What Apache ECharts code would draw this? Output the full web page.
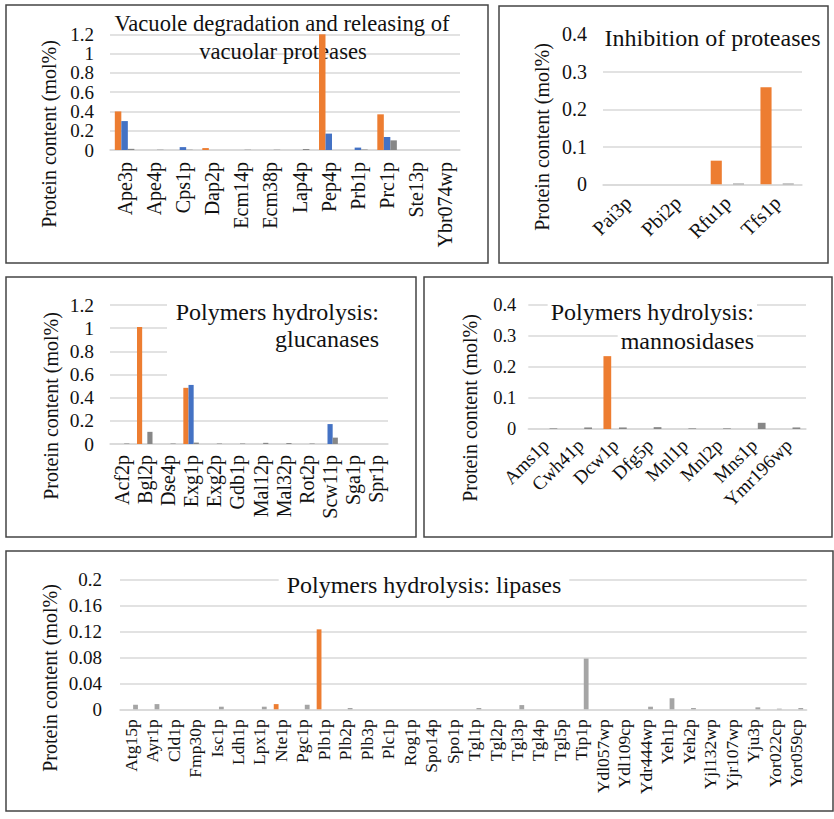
<!DOCTYPE html>
<html>
<head>
<meta charset="utf-8">
<script src="https://cdn.jsdelivr.net/npm/echarts@6/dist/echarts.min.js"></script>
<style>
html,body{margin:0;padding:0;background:#fff;}
#chart{width:834px;height:819px;}
</style>
</head>
<body>
<div id="chart"></div>
<script>
// ---------- Panel 1: Vacuole degradation ----------
const p1Categories = ['Ape3p','Ape4p','Cps1p','Dap2p','Ecm14p','Ecm38p','Lap4p','Pep4p','Prb1p','Prc1p','Ste13p','Ybr074wp'];
const p1Orange = [0.40, 0, 0, 0.02, 0, 0, 0, 1.2, 0, 0.37, 0, 0];
const p1Blue   = [0.30, 0, 0.03, 0, 0, 0, 0, 0.17, 0.025, 0.135, 0, 0];
const p1Gray   = [0.012, 0.003, 0.003, 0, 0.003, 0.003, 0.01, 0, 0.005, 0.10, 0, 0];
const p1Ticks  = {max: 1.2, interval: 0.2};

// ---------- Panel 2: Inhibition of proteases ----------
const p2Categories = ['Pai3p','Pbi2p','Rfu1p','Tfs1p'];
const p2Orange = [0, 0, 0.063, 0.259];
const p2Blue   = [0, 0, 0, 0];
const p2Gray   = [0, 0, 0.002, 0.002];
const p2Ticks  = {max: 0.4, interval: 0.1};

// ---------- Panel 3: glucanases ----------
const p3Categories = ['Acf2p','Bgl2p','Dse4p','Exg1p','Exg2p','Gdb1p','Mal12p','Mal32p','Rot2p','Scw11p','Sga1p','Spr1p'];
const p3Orange = [0, 1.01, 0, 0.485, 0, 0, 0, 0, 0, 0, 0, 0];
const p3Blue   = [0, 0, 0, 0.51, 0, 0, 0, 0, 0, 0.172, 0, 0];
const p3Gray   = [0.004, 0.105, 0.004, 0.012, 0.004, 0.004, 0.01, 0.008, 0.004, 0.055, 0, 0];
const p3Ticks  = {max: 1.2, interval: 0.2};

// ---------- Panel 4: mannosidases ----------
const p4Categories = ['Ams1p','Cwh41p','Dcw1p','Dfg5p','Mnl1p','Mnl2p','Mns1p','Ymr196wp'];
const p4Orange = [0, 0, 0.235, 0, 0, 0, 0, 0];
const p4Blue   = [0, 0, 0, 0, 0, 0, 0, 0];
const p4Gray   = [0.002, 0.005, 0.005, 0.006, 0.002, 0.002, 0.02, 0.005];
const p4Ticks  = {max: 0.4, interval: 0.1};

// ---------- Panel 5: lipases ----------
const p5Categories = ['Atg15p','Ayr1p','Cld1p','Fmp30p','Isc1p','Ldh1p','Lpx1p','Nte1p','Pgc1p','Plb1p','Plb2p','Plb3p','Plc1p','Rog1p','Spo14p','Spo1p','Tgl1p','Tgl2p','Tgl3p','Tgl4p','Tgl5p','Tip1p','Ydl057wp','Ydl109cp','Ydr444wp','Yeh1p','Yeh2p','Yjl132wp','Yjr107wp','Yju3p','Yor022cp','Yor059cp'];
const p5Orange = [0,0,0,0,0,0,0,0.008,0,0.123,0,0,0,0,0,0,0,0,0,0,0,0,0,0,0,0,0,0,0,0,0,0];
const p5Blue   = [0,0,0,0,0,0,0,0,0,0,0,0,0,0,0,0,0,0,0,0,0,0,0,0,0,0,0,0,0,0,0,0];
const p5Gray   = [0.007,0.008,0,0,0.004,0,0.004,0,0.007,0,0.002,0,0,0,0,0,0.002,0,0.0065,0,0,0.078,0,0,0.004,0.017,0.002,0,0,0.003,0.001,0.002];
const p5Ticks  = {max: 0.2, interval: 0.04};

const yAxisTitle = 'Protein content (mol%)';
const FONT = '"Liberation Serif", "Times New Roman", serif';
const ORANGE = '#ED7D31', BLUE = '#4472C4';

const panels = [
  {cats: p1Categories, o: p1Orange, b: p1Blue, g: p1Gray, t: p1Ticks, gray: '#878787',
   grid: {left: 110, top: 34.3, width: 350, height: 115.7}, rot: 90, xMargin: 12, yMargin: 16, xFs: 20, yFs: 19},
  {cats: p2Categories, o: p2Orange, b: p2Blue, g: p2Gray, t: p2Ticks, gray: '#878787',
   grid: {left: 603, top: 34.3, width: 199, height: 150}, rot: 45, xMargin: 15, yMargin: 16, xFs: 20, yFs: 20},
  {cats: p3Categories, o: p3Orange, b: p3Blue, g: p3Gray, t: p3Ticks, gray: '#878787',
   grid: {left: 110, top: 305, width: 278, height: 139}, rot: 90, xMargin: 11, yMargin: 16, xFs: 20, yFs: 19.5},
  {cats: p4Categories, o: p4Orange, b: p4Blue, g: p4Gray, t: p4Ticks, gray: '#878787',
   grid: {left: 528.3, top: 305, width: 277.7, height: 124}, rot: 45, xMargin: 13, yMargin: 12, xFs: 19, yFs: 18.5},
  {cats: p5Categories, o: p5Orange, b: p5Blue, g: p5Gray, t: p5Ticks, gray: '#A5A5A5',
   grid: {left: 120, top: 579.3, width: 686.7, height: 130}, rot: 90, xMargin: 10, yMargin: 18, xFs: 17.5, yFs: 19}
];

const grids = [], xAxes = [], yAxes = [], series = [];
panels.forEach((p, i) => {
  grids.push(Object.assign({containLabel: false, outerBoundsMode: 'none'}, p.grid));
  xAxes.push({
    type: 'category', gridIndex: i, data: p.cats,
    axisLine: {show: true, lineStyle: {color: '#d9d9d9', width: 1.5}},
    axisTick: {show: false},
    axisLabel: {interval: 0, rotate: p.rot, margin: p.xMargin, color: '#111',
                fontFamily: FONT, fontSize: p.xFs}
  });
  yAxes.push({
    type: 'value', gridIndex: i, min: 0, max: p.t.max, interval: p.t.interval,
    axisLine: {show: false}, axisTick: {show: false},
    splitLine: {show: true, lineStyle: {color: '#d9d9d9', width: 1.5}},
    axisLabel: {margin: p.yMargin, color: '#111', fontFamily: FONT, fontSize: p.yFs}
  });
  [[p.o, ORANGE], [p.b, BLUE], [p.g, p.gray]].forEach(([d, c], k) => {
    series.push({
      type: 'bar', xAxisIndex: i, yAxisIndex: i, data: d, z: 5,
      name: 'P' + (i + 1) + '-' + k,
      itemStyle: {color: c}, barGap: '0%', barCategoryGap: '33%',
      silent: true, animation: false
    });
  });
});

const txt = (text, x, y, size, align, extra) => ({
  type: 'text', x: x, y: y, z: 3,
  style: Object.assign({text: text, fontFamily: FONT, fontSize: size, fill: '#111',
    textAlign: align, textVerticalAlign: 'middle'}, extra || {})
});
const box = (x, y, w, h) => ({type: 'rect', z: 1, shape: {x: x, y: y, width: w, height: h},
  style: {fill: 'none', stroke: '#444', lineWidth: 1.5}});
const vname = (x, y) => ({type: 'text', x: x, y: y, rotation: Math.PI / 2, z: 3,
  style: {text: yAxisTitle, fontFamily: FONT, fontSize: 20, fill: '#111',
    textAlign: 'center', textVerticalAlign: 'middle'}});

const bg = {backgroundColor: '#fff', padding: [1, 3]};
const graphics = [
  box(6, 5, 482, 258), box(499, 6, 329, 257), box(6, 277, 410, 260),
  box(424, 277, 408, 260), box(6, 551, 827, 260),
  txt('Vacuole degradation and releasing of', 282, 23.3, 22.6, 'center'),
  txt('vacuolar proteases', 283, 51.7, 22.6, 'center'),
  txt('Inhibition of proteases', 712.5, 38, 24, 'center', bg),
  {type: 'rect', z: 2, shape: {x: 167, y: 296, width: 224, height: 84}, style: {fill: '#fff'}},
  txt('Polymers hydrolysis:', 379, 311.7, 24, 'right'),
  txt('glucanases', 379, 339, 24, 'right'),
  txt('Polymers hydrolysis:', 757, 311.7, 24, 'right', bg),
  txt('mannosidases', 757, 340.7, 24, 'right', bg),
  txt('Polymers hydrolysis: lipases', 424, 585, 24, 'center', {backgroundColor: '#fff', padding: [1, 8]}),
  vname(49, 134), vname(542, 137), vname(51, 406), vname(470, 408), vname(50, 678)
];

const chart = echarts.init(document.getElementById('chart'), null, {renderer: 'svg'});
chart.setOption({
  animation: false,
  backgroundColor: '#fff',
  grid: grids, xAxis: xAxes, yAxis: yAxes, series: series,
  graphic: {elements: graphics}
});
</script>
</body>
</html>
